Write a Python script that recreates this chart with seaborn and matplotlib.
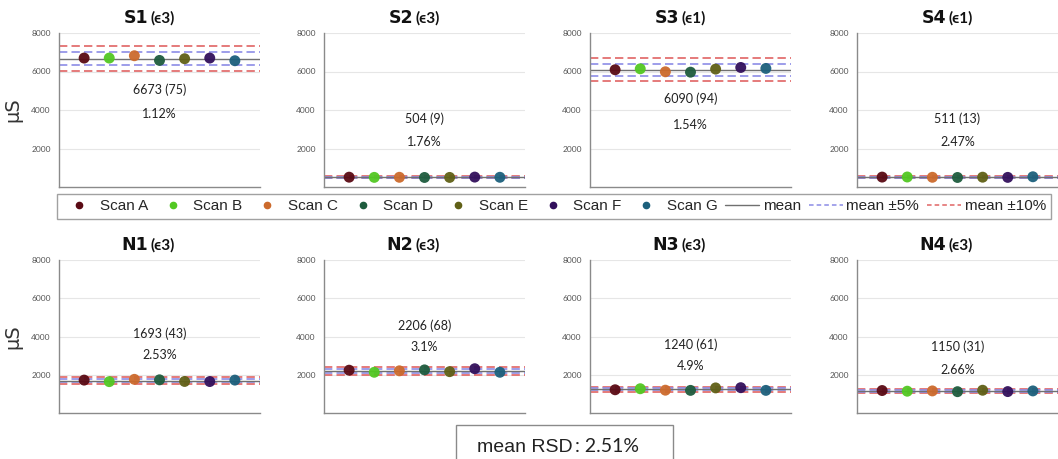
import matplotlib
matplotlib.use("Agg")
import matplotlib.pyplot as plt
from matplotlib.lines import Line2D
from matplotlib.patches import Rectangle
import seaborn as sns
import pandas as pd

# ---------------- data ----------------
scans = ["Scan A", "Scan B", "Scan C", "Scan D", "Scan E", "Scan F", "Scan G"]
scan_colors = ["#5a0a14", "#52c822", "#cc6a2c", "#1e5c3e", "#606016", "#32105c", "#1c607c"]

panel_names = ["S1", "S2", "S3", "S4", "N1", "N2", "N3", "N4"]
panel_eps = ["(ϵ3)", "(ϵ3)", "(ϵ1)", "(ϵ1)", "(ϵ3)", "(ϵ3)", "(ϵ3)", "(ϵ3)"]

S1 = [6698, 6698, 6819, 6576, 6663, 6698, 6559]
S2 = [510, 500, 505, 495, 498, 515, 505]
S3 = [6090, 6140, 5985, 5965, 6125, 6210, 6160]
S4 = [515, 520, 505, 495, 510, 500, 532]
N1 = [1720, 1640, 1760, 1735, 1650, 1645, 1720]
N2 = [2238, 2130, 2206, 2254, 2162, 2315, 2130]
N3 = [1215, 1269, 1193, 1183, 1312, 1324, 1183]
N4 = [1175, 1140, 1155, 1115, 1190, 1120, 1155]
panel_values = [S1, S2, S3, S4, N1, N2, N3, N4]

means = [6673, 504, 6090, 511, 1693, 2206, 1240, 1150]
sds = [75, 9, 94, 13, 43, 68, 61, 31]
rsds = ["1.12%", "1.76%", "1.54%", "2.47%", "2.53%", "3.1%", "4.9%", "2.66%"]
mean_rsd = "2.51%"

y_ticks = [2000, 4000, 6000, 8000]

# ---------------- layout (not data) ----------------
text_y = [(5077, 3795), (3538, 2359), (4564, 3231), (3538, 2359),
          (4154, 3026), (4564, 3436), (3590, 2462), (3487, 2256)]

W, H = 1058, 459
fig = plt.figure(figsize=(W / 100, H / 100), dpi=100)
sns.set_theme(style="white")
plt.rcParams['font.family'] = ['Lato', 'DejaVu Sans']

lefts = [59, 324, 590, 857]
ax_w = 201
rows = [(33, 187), (260, 413)]

for i, name in enumerate(panel_names):
    r, c = divmod(i, 4)
    top, bot = rows[r]
    ax = fig.add_axes([lefts[c] / W, 1 - bot / H, ax_w / W, (bot - top) / H])
    df = pd.DataFrame({"x": list(range(1, 8)), "value": panel_values[i], "scan": scans})
    m = means[i]
    ax.axhline(m * 1.10, color="#e06464", lw=1.2, ls=(0, (5, 2.5)), zorder=1)
    ax.axhline(m * 0.90, color="#e06464", lw=1.2, ls=(0, (5, 2.5)), zorder=1)
    ax.axhline(m * 1.05, color="#8c8ce6", lw=1.2, ls=(0, (5, 2.5)), zorder=1)
    ax.axhline(m * 0.95, color="#8c8ce6", lw=1.2, ls=(0, (5, 2.5)), zorder=1)
    ax.axhline(m, color="#707070", lw=1.0, zorder=1)
    sns.scatterplot(data=df, x="x", y="value", hue="scan", palette=scan_colors,
                    hue_order=scans, s=62, linewidth=0, alpha=0.95, legend=False,
                    ax=ax, zorder=3)
    ax.set_xlim(0, 8)
    ax.set_ylim(0, 8000)
    ax.set_xticks([0, 2, 4, 6, 8])
    ax.set_xticklabels([])
    ax.set_yticks(y_ticks)
    ax.set_yticklabels([str(t) for t in y_ticks], fontsize=6, color="#555555")
    ax.tick_params(axis="y", length=0, pad=6)
    ax.tick_params(axis="x", direction="inout", length=3, color="#888888", width=0.8)
    ax.grid(axis="y", color="#e6e6e6", lw=0.8, zorder=0)
    for s in ["top", "right"]:
        ax.spines[s].set_visible(False)
    for s in ["left", "bottom"]:
        ax.spines[s].set_color("#8a8a8a")
        ax.spines[s].set_linewidth(1.0)
    ax.set_xlabel("")
    if c == 0:
        ax.set_ylabel("μS", fontsize=14, color="#333333", labelpad=6,
                      family=['DejaVu Sans'])
    else:
        ax.set_ylabel("")
    ax.text(4, text_y[i][0], f"{means[i]} ({sds[i]})", ha="center", va="center",
            fontsize=9, color="#222222")
    ax.text(4, text_y[i][1], rsds[i], ha="center", va="center",
            fontsize=9, color="#222222")
    ty = 1 + 15 / (bot - top)
    ax.text(0.445, ty, name, transform=ax.transAxes, ha="right", va="center",
            fontsize=12.5, fontweight="bold", color="#111111", family=['DejaVu Sans'])
    ax.text(0.455, ty, panel_eps[i], transform=ax.transAxes, ha="left", va="center",
            fontsize=11, fontweight="bold", color="#111111")

# ---------------- legend ----------------
handles = [Line2D([], [], marker="o", ls="none", color=col, markersize=4.5)
           for col in scan_colors]
handles += [Line2D([], [], color="#707070", lw=1.0),
            Line2D([], [], color="#8c8ce6", lw=1.1, ls=(0, (3, 2))),
            Line2D([], [], color="#e06464", lw=1.1, ls=(0, (3, 2)))]
labels = scans + ["mean", "mean ±5%", "mean ±10%"]
leg = fig.legend(handles, labels, ncol=10, loc="upper left",
                 bbox_to_anchor=(57 / W, 1 - 194 / H), borderaxespad=0,
                 frameon=True, fancybox=False,
                 edgecolor="#8a8a8a", handlelength=2.2,
                 handletextpad=0.25, columnspacing=0.52, borderpad=0.35,
                 prop={"family": ["Liberation Sans"], "size": 11})
leg.get_frame().set_linewidth(1.0)

# ---------------- mean RSD box ----------------
fig.patches.append(Rectangle((456 / W, 0 - 5 / H), 217 / W, (459 - 425 + 5) / H,
                             transform=fig.transFigure, fill=False,
                             edgecolor="#8a8a8a", lw=1.0))
fig.text(573 / W, 1 - 447 / H, "mean RSD", ha="right", va="center", fontsize=14,
         color="#222222", family=["Liberation Sans"])
fig.text(575 / W, 1 - 447 / H, ": " + mean_rsd, ha="left", va="center", fontsize=14,
         color="#222222")

fig.savefig("out.png", dpi=100)
